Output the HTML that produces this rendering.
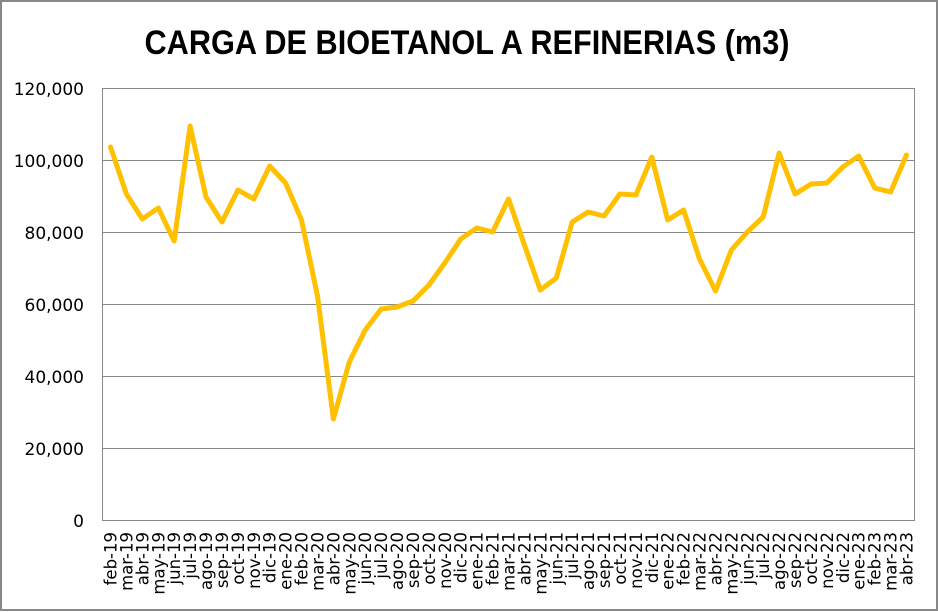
<!DOCTYPE html>
<html><head><meta charset="utf-8"><style>
html,body{margin:0;padding:0;background:#fff;}
svg{display:block;font-family:"DejaVu Sans","Liberation Sans",sans-serif;}
</style></head><body>
<svg width="938" height="612" viewBox="0 0 938 612" xmlns="http://www.w3.org/2000/svg">
<rect x="1" y="1" width="936" height="609" fill="#fff" stroke="#888" stroke-width="2"/>
<text x="467" y="54" text-anchor="middle" font-family="Liberation Sans, sans-serif" font-weight="bold" font-size="34" textLength="645" lengthAdjust="spacingAndGlyphs">CARGA DE BIOETANOL A REFINERIAS (m3)</text>
<g stroke="#888" stroke-width="1" fill="none">
<line x1="102.5" y1="88.5" x2="914.5" y2="88.5"/>
<line x1="102.5" y1="160.5" x2="914.5" y2="160.5"/>
<line x1="102.5" y1="232.5" x2="914.5" y2="232.5"/>
<line x1="102.5" y1="304.5" x2="914.5" y2="304.5"/>
<line x1="102.5" y1="376.5" x2="914.5" y2="376.5"/>
<line x1="102.5" y1="448.5" x2="914.5" y2="448.5"/>
<rect x="102.5" y="88.5" width="812" height="432"/>
</g>
<g font-size="17" text-anchor="end" fill="#000">
<text x="84" y="95">120,000</text>
<text x="84" y="167">100,000</text>
<text x="84" y="239">80,000</text>
<text x="84" y="311">60,000</text>
<text x="84" y="383">40,000</text>
<text x="84" y="455">20,000</text>
<text x="84" y="527">0</text>
</g>
<g id="xl" font-size="16.5" text-anchor="end" fill="#000"></g>
<polyline id="ln" fill="none" stroke="#FFC000" stroke-width="5" stroke-linejoin="round" stroke-linecap="round" points=""/>
<script>
var L="feb-19 mar-19 abr-19 may-19 jun-19 jul-19 ago-19 sep-19 oct-19 nov-19 dic-19 ene-20 feb-20 mar-20 abr-20 may-20 jun-20 jul-20 ago-20 sep-20 oct-20 nov-20 dic-20 ene-21 feb-21 mar-21 abr-21 may-21 jun-21 jul-21 ago-21 sep-21 oct-21 nov-21 dic-21 ene-22 feb-22 mar-22 abr-22 may-22 jun-22 jul-22 ago-22 sep-22 oct-22 nov-22 dic-22 ene-23 feb-23 mar-23 abr-23".split(" ");
var Y=[147,194,219,208,241,126,197,222,190,199,166,183,220,296,419,362,330,309,307,301,285,263,239,228,232,199,245,290,278,222,212,216,194,195,157,220,210,259,291,250,232,217,153,194,184,183,167,156,188,192,155];
var g=document.getElementById("xl"),p=[];
for(var i=0;i<51;i++){var x=110.5+i*15.92;p.push(x.toFixed(1)+","+Y[i]);
var t=document.createElementNS("http://www.w3.org/2000/svg","text");
t.setAttribute("transform","translate("+(x+6)+",532) rotate(-90)");t.textContent=L[i];g.appendChild(t);}
document.getElementById("ln").setAttribute("points",p.join(" "));
</script>
</svg>
</body></html>
